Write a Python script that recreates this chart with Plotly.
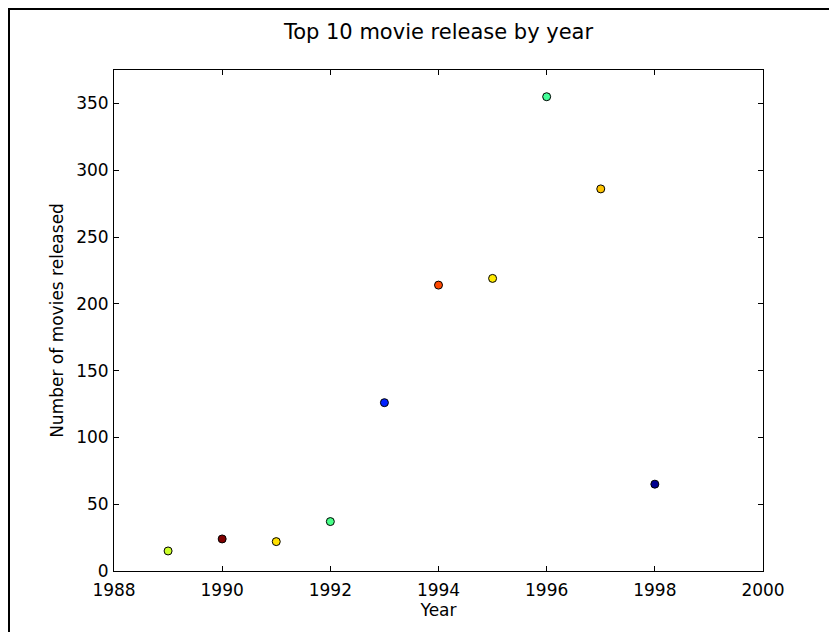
import plotly.graph_objects as go

years = [1989, 1990, 1991, 1992, 1993, 1994, 1995, 1996, 1997, 1998]
movie_counts = [15, 24, 22, 37, 126, 214, 219, 355, 286, 65]
point_colors = ["#ccff2a", "#800000", "#ffe000", "#48ff88", "#0020ff",
                "#ff4800", "#ffea00", "#44ff99", "#ffc400", "#000090"]
x_ticks = [1988, 1990, 1992, 1994, 1996, 1998, 2000]
y_ticks = [0, 50, 100, 150, 200, 250, 300, 350]

# page has a small body margin, so the figure is a bit smaller than the window
W, H = 830, 625
L, R, T, B = 106, 75, 62, 62
pw, ph = W - L - R, H - T - B

fig = go.Figure(go.Scatter(
    x=years,
    y=movie_counts,
    mode="markers",
    marker=dict(size=8, color=point_colors, line=dict(color="black", width=1)),
    showlegend=False,
))

axis_style = dict(
    showline=True,
    linecolor="black",
    linewidth=1,
    mirror="ticks",
    ticks="inside",
    ticklen=5,
    tickcolor="black",
    showgrid=False,
    zeroline=False,
    tickfont=dict(size=17, color="black"),
)

fig.update_layout(
    width=W,
    height=H,
    margin=dict(l=L, r=R, t=T, b=B),
    paper_bgcolor="white",
    plot_bgcolor="white",
    font=dict(family="DejaVu Sans", color="black"),
    title=dict(text="Top 10 movie release by year", x=(L + pw / 2) / W,
               xanchor="center", y=1 - 24 / H, yanchor="middle",
               font=dict(size=21)),
    xaxis=dict(axis_style, range=[1988, 2000], tickvals=x_ticks,
               ticklabelstandoff=4,
               title=dict(text="Year", font=dict(size=17), standoff=3)),
    yaxis=dict(axis_style, range=[0, 375], tickvals=y_ticks,
               ticklabelstandoff=1,
               title=dict(text="Number of movies released", font=dict(size=17), standoff=8)),
    shapes=[
        dict(type="line", xref="paper", yref="paper", x0=-L / pw, x1=(pw + R + 10) / pw,
             y0=1 + (T - 1) / ph, y1=1 + (T - 1) / ph, line=dict(color="black", width=2)),
        dict(type="line", xref="paper", yref="paper", x0=-(L - 1) / pw, x1=-(L - 1) / pw,
             y0=-(B + 10) / ph, y1=1 + (T - 1) / ph, line=dict(color="black", width=2)),
    ],
)

fig.write_html("out.html")
